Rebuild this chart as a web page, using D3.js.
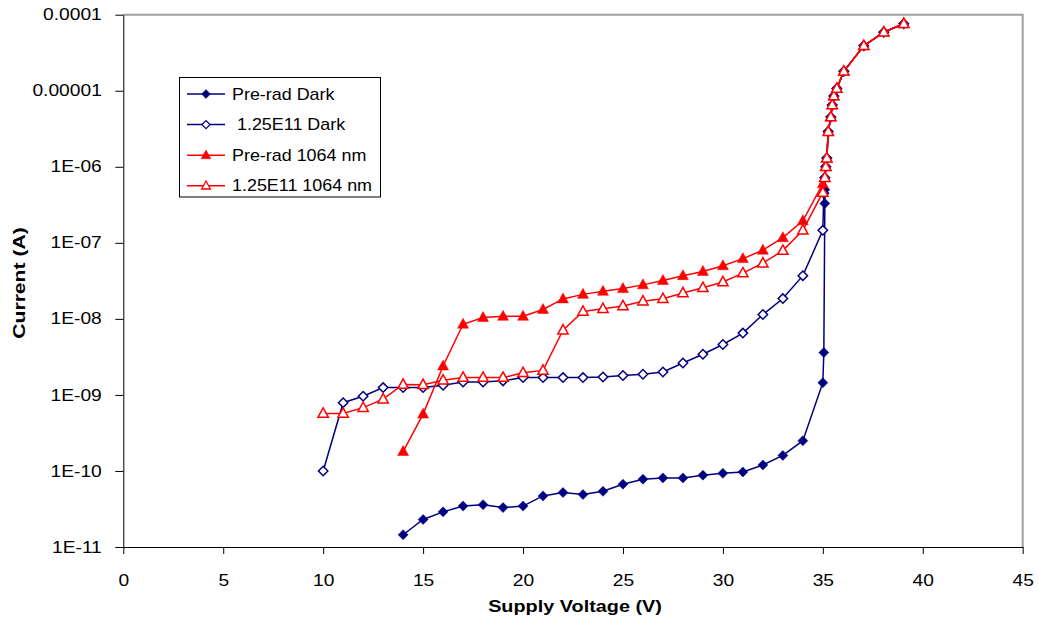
<!DOCTYPE html>
<html>
<head>
<meta charset="utf-8">
<script src="https://cdn.jsdelivr.net/npm/d3@7"></script>
<style>
  body { margin: 0; background: #fff; }
  text { font-family: "Liberation Sans", Arial, sans-serif; }
</style>
</head>
<body>
<div id="chart"></div>
<script>
// I-V curves, log current vs supply voltage

// shared breakdown region (all four curves sit on top of each other here)
const breakdownV = [35.1, 35.15, 35.2, 35.27, 35.4, 35.47, 35.55, 35.7, 36.05, 37.05, 38.05, 39.05];
const breakdownI = [7.2e-7, 1.0e-6, 1.3e-6, 2.9e-6, 4.5e-6, 6.5e-6, 8.5e-6, 1.07e-5, 1.8e-5, 3.9e-5, 5.9e-5, 7.6e-5];

const preDarkV = [14, 15, 16, 17, 18, 19, 20, 21, 22, 23, 24, 25, 26, 27, 28, 29, 30, 31, 32, 33, 34, 35, 35.05, 35.1, 35.1];
const preDarkI = [1.45e-11, 2.3e-11, 2.9e-11, 3.45e-11, 3.6e-11, 3.3e-11, 3.45e-11, 4.7e-11, 5.2e-11, 4.9e-11,
                  5.4e-11, 6.7e-11, 7.8e-11, 8.1e-11, 8.1e-11, 8.8e-11, 9.3e-11, 9.7e-11, 1.2e-10, 1.6e-10,
                  2.5e-10, 1.45e-9, 3.6e-9, 3.3e-7, 5.0e-7];

const radDarkV = [10, 11, 12, 13, 14, 15, 16, 17, 18, 19, 20, 21, 22, 23, 24, 25, 26, 27, 28, 29, 30, 31, 32, 33, 34, 35, 35.05];
const radDarkI = [1.0e-10, 7.9e-10, 9.6e-10, 1.25e-9, 1.25e-9, 1.25e-9, 1.34e-9, 1.48e-9, 1.48e-9, 1.53e-9,
                  1.69e-9, 1.69e-9, 1.69e-9, 1.69e-9, 1.72e-9, 1.8e-9, 1.87e-9, 2.0e-9, 2.63e-9, 3.43e-9,
                  4.6e-9, 6.5e-9, 1.14e-8, 1.85e-8, 3.7e-8, 1.46e-7, 4.5e-7];

const preLaserV = [14, 15, 16, 17, 18, 19, 20, 21, 22, 23, 24, 25, 26, 27, 28, 29, 30, 31, 32, 33, 34, 35];
const preLaserI = [1.8e-10, 5.6e-10, 2.4e-9, 8.5e-9, 1.04e-8, 1.08e-8, 1.08e-8, 1.33e-8, 1.83e-8, 2.1e-8,
                   2.3e-8, 2.5e-8, 2.8e-8, 3.2e-8, 3.7e-8, 4.2e-8, 5.0e-8, 6.2e-8, 8.0e-8, 1.17e-7,
                   1.95e-7, 6.0e-7];

const radLaserV = [10, 11, 12, 13, 14, 15, 16, 17, 18, 19, 20, 21, 22, 23, 24, 25, 26, 27, 28, 29, 30, 31, 32, 33, 34, 35];
const radLaserI = [5.7e-10, 5.7e-10, 6.8e-10, 8.8e-10, 1.37e-9, 1.36e-9, 1.56e-9, 1.69e-9, 1.69e-9, 1.69e-9,
                   1.95e-9, 2.1e-9, 7.1e-9, 1.25e-8, 1.36e-8, 1.48e-8, 1.71e-8, 1.84e-8, 2.19e-8, 2.57e-8,
                   3.05e-8, 4.0e-8, 5.4e-8, 7.9e-8, 1.46e-7, 4.6e-7];

const seriesNames = ["Pre-rad Dark", " 1.25E11 Dark", "Pre-rad 1064 nm", "1.25E11 1064 nm"];

const xTicks = [0, 5, 10, 15, 20, 25, 30, 35, 40, 45];
const yTicks = [1e-11, 1e-10, 1e-9, 1e-8, 1e-7, 1e-6, 1e-5, 1e-4];
const yTickLabels = ["1E-11", "1E-10", "1E-09", "1E-08", "1E-07", "1E-06", "0.00001", "0.0001"];

const NAVY = "#000080", RED = "#ff0000";

const zip = (vs, is) => vs.map((v, i) => ({ v, i: is[i] }));
const withBreakdown = (vs, is) => zip(vs, is).concat(zip(breakdownV, breakdownI));

const series = [
    { name: seriesNames[0], color: NAVY, shape: "diamond", filled: true, pts: withBreakdown(preDarkV, preDarkI) },
    { name: seriesNames[1], color: NAVY, shape: "diamond", filled: false, pts: withBreakdown(radDarkV, radDarkI) },
    { name: seriesNames[2], color: RED, shape: "triangle", filled: true, pts: withBreakdown(preLaserV, preLaserI) },
    { name: seriesNames[3], color: RED, shape: "triangle", filled: false, pts: withBreakdown(radLaserV, radLaserI) }
];

const W = 1039, H = 620;
const plot = { left: 123.3, right: 1022.7, top: 14.7, bottom: 547 };

const svg = d3.select("#chart").append("svg")
    .attr("width", W)
    .attr("height", H)
    .style("display", "block");

svg.append("rect").attr("width", W).attr("height", H).attr("fill", "#fff");

const x = d3.scaleLinear().domain([0, 45]).range([plot.left, plot.right]);
const y = d3.scaleLog().domain([1e-11, 1e-4]).range([plot.bottom, plot.top]);

// plot area border (gray top/right)
svg.append("path")
    .attr("d", `M${plot.left},${plot.top}H${plot.right}V${plot.bottom}`)
    .attr("fill", "none")
    .attr("stroke", "#a0a0a0")
    .attr("stroke-width", 2);

// axes
const yAxis = svg.append("g")
    .attr("transform", `translate(${plot.left},0)`)
    .call(d3.axisLeft(y).tickValues(yTicks).tickSize(8).tickSizeOuter(0)
        .tickFormat((d, i) => yTickLabels[i]));
yAxis.selectAll("text")
    .attr("x", 0)
    .attr("transform", "translate(-21.5,0) scale(1.2,1)")
    .attr("font-size", "16px")
    .attr("font-family", "Liberation Sans, Arial, sans-serif")
    .attr("fill", "#000");

const xAxis = svg.append("g")
    .attr("transform", `translate(0,${plot.bottom})`)
    .call(d3.axisBottom(x).tickValues(xTicks).tickSize(7).tickSizeOuter(0));
xAxis.selectAll("text")
    .attr("y", 0)
    .attr("transform", "translate(0,28) scale(1.2,1)")
    .attr("font-size", "16px")
    .attr("font-family", "Liberation Sans, Arial, sans-serif")
    .attr("fill", "#000");

svg.selectAll(".domain, .tick line").attr("stroke", "#000").attr("stroke-width", 1);

// axis titles
svg.append("text")
    .attr("transform", "translate(575,612) scale(1.24,1)")
    .attr("text-anchor", "middle")
    .attr("font-size", "16px")
    .attr("font-weight", "bold")
    .text("Supply Voltage (V)");

svg.append("text")
    .attr("transform", "translate(25,283) rotate(-90) scale(1.32,1)")
    .attr("text-anchor", "middle")
    .attr("font-size", "16px")
    .attr("font-weight", "bold")
    .text("Current (A)");

// marker shapes
function markerPath(shape, s) {
    if (shape === "diamond") return `M0,${-s}L${s},0L0,${s}L${-s},0Z`;
    const w = s * 1.1, h = s;
    return `M0,${-h * 1.2}L${w},${h * 0.8}L${-w},${h * 0.8}Z`;
}

const line = d3.line().x(d => x(d.v)).y(d => y(d.i));

series.forEach(s => {
    const g = svg.append("g");
    g.append("path")
        .datum(s.pts)
        .attr("d", line)
        .attr("fill", "none")
        .attr("stroke", s.color)
        .attr("stroke-width", 1.5);

    g.selectAll(".mk")
        .data(s.pts)
        .enter()
        .append("path")
        .attr("transform", d => `translate(${x(d.v)},${y(d.i)})`)
        .attr("d", markerPath(s.shape, s.filled ? 5 : 4.7))
        .attr("fill", s.filled ? s.color : "#fff")
        .attr("stroke", s.color)
        .attr("stroke-width", s.filled ? 0.5 : 1.5);
});

// legend
const legend = svg.append("g");
legend.append("rect")
    .attr("x", 179.5).attr("y", 77.5)
    .attr("width", 201).attr("height", 119.5)
    .attr("fill", "#fff")
    .attr("stroke", "#000")
    .attr("stroke-width", 1);

series.forEach((s, k) => {
    const ly = 94 + k * 30.6;
    legend.append("line")
        .attr("x1", 187).attr("x2", 225)
        .attr("y1", ly).attr("y2", ly)
        .attr("stroke", s.color)
        .attr("stroke-width", 1.5);
    legend.append("path")
        .attr("transform", `translate(206,${ly})`)
        .attr("d", markerPath(s.shape, s.filled ? 4.4 : 4))
        .attr("fill", s.filled ? s.color : "#fff")
        .attr("stroke", s.color)
        .attr("stroke-width", s.filled ? 0.5 : 1.3);
    legend.append("text")
        .attr("transform", `translate(232,${ly + 5.5}) scale(1.12,1)`)
        .attr("font-size", "16px")
        .style("white-space", "pre")
        .text(s.name);
});
</script>
</body>
</html>
